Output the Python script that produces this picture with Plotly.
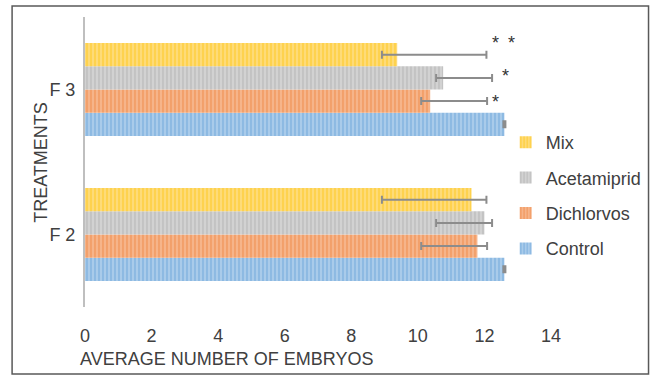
import plotly.graph_objects as go

# ---- data ----
categories = ["F 2", "F 3"]
series_names = ["Control", "Dichlorvos", "Acetamiprid", "Mix"]
control = [12.6, 12.6]
dichlorvos = [11.79, 10.37]
acetamiprid = [12.0, 10.76]
mix = [11.61, 9.38]
# error bar ends (lower, upper) per series, same for both generations
err_low = {"Control": [12.57, 12.57], "Dichlorvos": [10.1, 10.1],
           "Acetamiprid": [10.55, 10.55], "Mix": [8.92, 8.92]}
err_high = {"Control": [12.63, 12.63], "Dichlorvos": [12.08, 12.08],
            "Acetamiprid": [12.23, 12.23], "Mix": [12.06, 12.06]}
x_ticks = [0, 2, 4, 6, 8, 10, 12, 14]

values = {"Control": control, "Dichlorvos": dichlorvos,
          "Acetamiprid": acetamiprid, "Mix": mix}

styles = {
    "Control": dict(bg="#A9CBEA", fg="#5B9BD5"),
    "Dichlorvos": dict(bg="#F6B48A", fg="#ED7D31"),
    "Acetamiprid": dict(bg="#D2D2D2", fg="#A8A8A8"),
    "Mix": dict(bg="#FEDB78", fg="#FFC000"),
}

W, H = 659, 376
ML, MR, MT, MB = 85, 101, 17, 69
PW, PH = W - ML - MR, H - MT - MB


def px(xp):
    return (xp - ML) / PW


def py(yp):
    return 1 - (yp - MT) / PH


FONT = "Liberation Sans, Arial, sans-serif"
TXT = "#404040"
FS = 18

fig = go.Figure()
n = len(series_names)
for i, name in enumerate(series_names):
    v = values[name]
    st = styles[name]
    fig.add_trace(go.Bar(
        name=name, y=categories, x=v, orientation="h",
        marker=dict(color=st["bg"], line=dict(width=0),
                    pattern=dict(shape="|", fgcolor=st["fg"], bgcolor=st["bg"],
                                 size=4, solidity=0.35)),
        error_x=dict(type="data", symmetric=False,
                     array=[h - x for h, x in zip(err_high[name], v)],
                     arrayminus=[x - l for l, x in zip(err_low[name], v)],
                     color="#8C8C8C", thickness=2, width=4),
        legendgroup=name, legendrank=n - i,
    ))

annotations = [
    dict(text="TREATMENTS", x=px(28), y=py(162), xref="paper", yref="paper",
         textangle=-90, showarrow=False, font=dict(size=FS, color=TXT, family=FONT)),
    dict(text="AVERAGE NUMBER OF EMBRYOS", x=px(78), y=py(359), xref="paper", yref="paper",
         xanchor="left", yanchor="middle", showarrow=False,
         font=dict(size=FS, color=TXT, family=FONT)),
]
stars = [("*", 502, 43), ("*", 518, 43), ("*", 512, 76), ("*", 502, 102)]
for t, sx, sy in stars:
    annotations.append(dict(text=t, x=px(sx), y=py(sy), xref="paper", yref="paper",
                            xanchor="center", yanchor="middle",
                            showarrow=False, font=dict(size=18, color="#333333", family=FONT)))

fig.update_layout(
    width=W, height=H,
    margin=dict(l=ML, r=MR, t=MT, b=MB),
    paper_bgcolor="white", plot_bgcolor="white",
    barmode="group", bargap=0.36, bargroupgap=0,
    font=dict(family=FONT, size=FS, color=TXT),
    xaxis=dict(range=[0, 14], tickvals=x_ticks, showgrid=False, zeroline=False,
               showline=False, ticks="outside", ticklen=12, tickcolor="rgba(0,0,0,0)",
               tickfont=dict(size=FS, color=TXT)),
    yaxis=dict(categoryorder="array", categoryarray=categories, showgrid=False,
               showline=True, linecolor="#BFBFBF", linewidth=2, zeroline=False,
               ticks="outside", ticklen=4, tickcolor="rgba(0,0,0,0)",
               tickfont=dict(size=FS, color=TXT)),
    legend=dict(x=px(512), y=py(124), xanchor="left", yanchor="top",
                traceorder="grouped", tracegroupgap=9,
                font=dict(size=FS, color=TXT, family=FONT),
                bgcolor="rgba(0,0,0,0)"),
    showlegend=True,
    annotations=annotations,
    shapes=[dict(type="rect", xref="paper", yref="paper",
                 x0=px(11), x1=px(657), y0=py(374), y1=py(6),
                 line=dict(color="#595959", width=1.5), layer="below")],
)

fig.write_html("out.html", config={"displayModeBar": False},
               post_script="document.body.style.margin='0';")
